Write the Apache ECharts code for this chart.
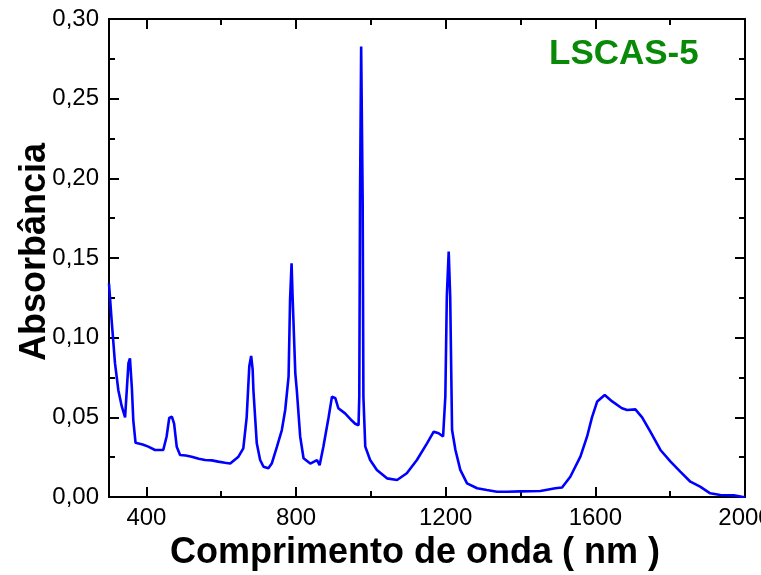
<!DOCTYPE html>
<html>
<head>
<meta charset="utf-8">
<script src="https://cdn.jsdelivr.net/npm/echarts@6/dist/echarts.min.js"></script>
<style>
html,body{margin:0;padding:0;background:#fff;}
#chart{width:761px;height:575px;}
</style>
</head>
<body>
<div id="chart"></div>
<script>
// Wavelength (nm)
var wavelength = [300,307,316,325,334,343,352,356,361,365,371,390,405,423,445,454,461,468,474,481,490,505,521,540,557,575,592,610,624,646,659,668,675,680,684,686,695,704,713,726,735,749,762,771,780,784,788,791,798,802,811,820,838,856,863,873,887,896,905,913,931,949,958,967,969,971,974,978,980,985,998,1016,1043,1070,1096,1123,1150,1168,1181,1193,1199,1203,1208,1212,1217,1226,1239,1257,1284,1310,1337,1364,1400,1453,1493,1511,1533,1560,1578,1591,1605,1625,1645,1671,1685,1707,1725,1747,1774,1801,1827,1854,1880,1907,1934,1970,1992,2000];
// Absorbance
var absorbance = [0.134,0.111,0.084,0.067,0.057,0.050,0.084,0.087,0.069,0.048,0.034,0.033,0.0316,0.0295,0.0295,0.038,0.0496,0.0504,0.046,0.0316,0.0264,0.026,0.0253,0.024,0.0232,0.023,0.0222,0.0215,0.021,0.0253,0.0305,0.050,0.082,0.0885,0.080,0.067,0.0337,0.0232,0.019,0.018,0.021,0.0316,0.042,0.0546,0.0755,0.124,0.1467,0.124,0.0776,0.067,0.038,0.0243,0.021,0.0232,0.020,0.0316,0.050,0.063,0.062,0.0557,0.0525,0.048,0.046,0.045,0.063,0.188,0.2827,0.188,0.063,0.0316,0.0232,0.017,0.0117,0.0107,0.0149,0.0232,0.0337,0.041,0.040,0.038,0.063,0.126,0.154,0.126,0.042,0.0295,0.017,0.0086,0.0055,0.0044,0.0033,0.0033,0.0035,0.0038,0.0055,0.006,0.0127,0.0253,0.038,0.050,0.060,0.064,0.060,0.0557,0.0546,0.055,0.050,0.041,0.0295,0.0222,0.0159,0.0096,0.0065,0.0023,0.0013,0.001,0.0002,0.0];
var xMajorTicks = [400,800,1200,1600,2000];
var xMinorTicks = [600,1000,1400,1800];
var sampleLabel = 'LSCAS-5';
var xTitle = 'Comprimento de onda ( nm )';
var yTitle = 'Absorbância';

var seriesData = wavelength.map(function(w,i){return [w, absorbance[i]];});
var font = 'Liberation Sans, Arial, sans-serif';
var lineStyle = {color:'#000', width:2};

function xAx(pos, ticks, len, labels, name){
  var a = {
    type:'value', position:pos, min:300, max:2000,
    axisLine:{show:true, onZero:false, lineStyle:lineStyle},
    axisTick:{show:true, inside:true, length:len, lineStyle:{color:'#000',width:2}, customValues:ticks},
    axisLabel:{show:labels, customValues:ticks, margin:9, color:'#000', fontSize:24, fontFamily:font,
      formatter:function(v){return String(v);}},
    splitLine:{show:false}
  };
  if(name){
    a.name = name; a.nameLocation='middle'; a.nameGap=31;
    a.nameTextStyle={fontSize:36, fontWeight:'bold', color:'#000', fontFamily:font, padding:[0,24,0,0]};
  }
  return a;
}
function yAx(pos, labels, name){
  var a = {
    type:'value', position:pos, min:0, max:0.30, interval:0.05,
    axisLine:{show:true, onZero:false, lineStyle:lineStyle},
    axisTick:{show:true, inside:true, length:10, lineStyle:{color:'#000',width:2}},
    minorTick:{show:true, splitNumber:2, length:6, lineStyle:{color:'#000',width:2}},
    axisLabel:{show:labels, margin:10, color:'#000', fontSize:24, fontFamily:font,
      formatter:function(v){return v.toFixed(2).replace('.',',');}},
    splitLine:{show:false}, minorSplitLine:{show:false}
  };
  if(name){
    a.name = name; a.nameLocation='middle'; a.nameGap=56; a.nameRotate=90; a.nameMoveOverlap=false;
    a.nameTextStyle={fontSize:36, fontWeight:'bold', color:'#000', fontFamily:font, padding:[0,0,0,12]};
  }
  return a;
}

var chart = echarts.init(document.getElementById('chart'), null, {renderer:'canvas'});
chart.setOption({
  animation:false,
  backgroundColor:'#fff',
  grid:{left:109, right:16, top:19, bottom:78, containLabel:false, outerBoundsMode:'none'},
  xAxis:[
    xAx('bottom', xMajorTicks, 10, true, xTitle),
    xAx('bottom', xMinorTicks, 6, false, null),
    xAx('top', xMajorTicks, 10, false, null),
    xAx('top', xMinorTicks, 6, false, null)
  ],
  yAxis:[ yAx('left', true, yTitle), yAx('right', false, null) ],
  graphic:[{
    type:'text', left:549, top:37,
    style:{text:sampleLabel, fill:'#088a08', font:'bold 35px ' + font}
  }],
  series:[{
    type:'line', xAxisIndex:0, yAxisIndex:0, data:seriesData,
    showSymbol:false, symbol:'none',
    lineStyle:{color:'#0000ff', width:2.6},
    itemStyle:{color:'#0000ff'}
  }]
});
</script>
</body>
</html>
